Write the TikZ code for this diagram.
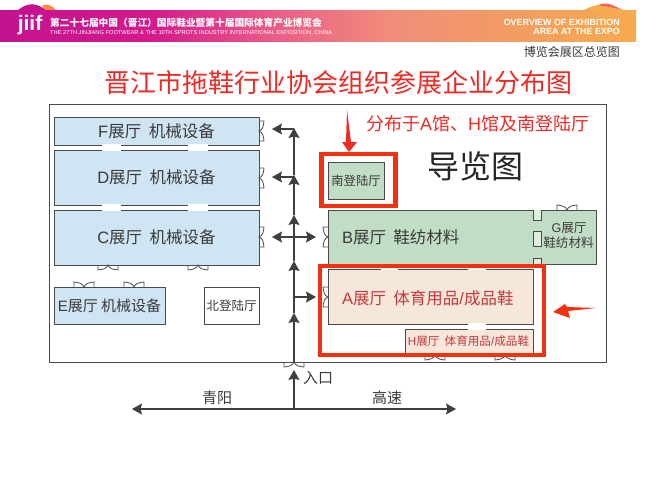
\documentclass[tikz,border=0pt]{standalone}
\usepackage{fontspec}
\setmainfont{Noto Sans CJK SC}
\newfontfamily\lat{Liberation Sans}
\usetikzlibrary{arrows.meta}
\definecolor{wallc}{HTML}{4A4A4A}
\definecolor{inkc}{HTML}{3A3A3A}
\definecolor{bluec}{HTML}{CFE5F3}
\definecolor{greenc}{HTML}{C2DDC6}
\definecolor{peachc}{HTML}{F5E8DA}
\definecolor{framec}{HTML}{F5300F}
\definecolor{titlec}{HTML}{EE2A24}
\definecolor{hallred}{HTML}{C8383C}
\definecolor{hdra}{HTML}{C4118E}
\definecolor{hdrb}{HTML}{D41A8C}
\definecolor{hdrc}{HTML}{EC5F88}
\definecolor{hdrm}{HTML}{F08E78}
\definecolor{hdrd}{HTML}{F6AB4C}
\pgfdeclarehorizontalshading{hdrshade}{100bp}{color(0bp)=(hdra); color(25bp)=(hdra); color(37bp)=(hdrb); color(47bp)=(hdrc); color(56bp)=(hdrm); color(75bp)=(hdrd); color(100bp)=(hdrd)}
\newcommand{\fsz}[1]{\fontsize{#1}{#1}\selectfont}
\newcommand{\room}[7][]{%
  \pgfmathsetmacro{\rw}{#4-#2}\pgfmathsetmacro{\rh}{#5-#3}%
  \pgfmathsetmacro{\rx}{(#4+#2)/2}\pgfmathsetmacro{\ry}{(#5+#3)/2}%
  \node[roombox,minimum width=\rw pt,minimum height=\rh pt,#1] (#6) at (\rx,\ry) {#7};}
\newcommand{\gapbox}[5][white]{%
  \fill[#1] (#2,#3) rectangle (#4,#5);}
\tikzset{
  roombox/.style={draw=wallc,line width=1pt,inner sep=0pt,outer sep=0pt,text=inkc,align=center},
  redframe/.style={draw=framec,line width=4.6pt,fill=none,inner sep=0pt,outer sep=0pt},
  label text/.style={inner sep=0pt,outer sep=0pt,text=inkc,align=center},
  flow/.style={draw=black!75,line width=1.1pt,-{Stealth[length=10pt,width=11pt,inset=1.5pt]}},
  gatemark/.pic={\draw[wallc,line width=.8pt] (-10,0) -- (-10,5) .. controls (-5,4.6) and (-1,3.4) .. (0,0) .. controls (1,3.4) and (5,4.6) .. (10,5) -- (10,0);}
}
\begin{document}
\begin{tikzpicture}[x=1pt,y=-1pt]
\useasboundingbox (0,0) rectangle (645,485);
\fill[white] (0,0) rectangle (645,485);
% header
\fill[hdra] (18,10) .. controls (26,4) and (34,1) .. (46,10) -- cycle;
\fill[hdrd!80!red] (42,6) .. controls (46,3) and (50,4) .. (56,10) -- (46,10) -- cycle;
\fill[hdrd] (584,10) .. controls (595,4) and (605,2) .. (624,10) -- cycle;
\fill[hdrm!70!red] (598,5) .. controls (604,2) and (610,3) .. (620,9) -- cycle;
\shade[shading=hdrshade] (0,10) rectangle (636,41);
\node[inner sep=0,text=white] (logo) at (30,25) {\lat\bfseries\fsz{21}jiif};
\node[inner sep=0,text=white,anchor=west] (cnhead) at (50,23) {\bfseries\fsz{9.7}第二十七届中国（晋江）国际鞋业暨第十届国际体育产业博览会};
\node[inner sep=0,text=white,anchor=west] (enhead) at (50,33) {\lat\fsz{5.7}THE 27TH JINJIANG FOOTWEAR \& THE 10TH SPROTS INDUSTRY INTERNATIONAL EXPOSITION, CHINA};
\node[inner sep=0,text=white,anchor=east] (enr1) at (620,22) {\lat\bfseries\fsz{8.9}OVERVIEW OF EXHIBITION};
\node[inner sep=0,text=white,anchor=east] (enr2) at (620,31) {\lat\bfseries\fsz{8.9}AREA AT THE EXPO};
\node[inner sep=0,text=inkc,anchor=east] (subhead) at (620,52) {\fsz{12}博览会展区总览图};
\node[inner sep=0,text=titlec] (title) at (338,83) {\fsz{26}晋江市拖鞋行业协会组织参展企业分布图};
% outer site
\room{49}{104}{606}{362}{site}{}
% left halls
\room[fill=bluec]{54}{117}{259}{145}{hallF}{\fsz{16.5}{\lat F}展厅\hspace{.45em}机械设备}
\room[fill=bluec]{54}{150}{259}{205}{hallD}{\fsz{16.5}{\lat D}展厅\hspace{.45em}机械设备}
\room[fill=bluec]{54}{210}{259}{265}{hallC}{\fsz{16.5}{\lat C}展厅\hspace{.45em}机械设备}
\gapbox{102}{144}{121}{151}\gapbox{188}{144}{208}{151}
\gapbox{102}{204}{121}{211}\gapbox{188}{204}{208}{211}
\room[fill=bluec]{54}{287}{165}{324}{hallE}{\fsz{15}{\lat E}展厅 机械设备}
\room[fill=white]{204}{287}{259}{324}{north}{\fsz{12.5}北登陆厅}
% right halls
\room[fill=greenc]{328}{162}{384}{199}{south}{\fsz{12.3}南登陆厅}
\room[fill=greenc]{328}{210}{596}{264}{hallB}{}
\draw[wallc,line width=1pt,fill=greenc!50!white] (533,210) -- (533,220) -- (541,220) -- (541,210);
\draw[wallc,line width=1pt,fill=greenc!50!white] (533,231) rectangle (541,246);
\draw[wallc,line width=1pt,fill=greenc!50!white] (533,264) -- (533,258) -- (541,258) -- (541,264);
\node[label text,anchor=west] (hallBt) at (342,237) {\fsz{16.5}{\lat B}展厅\hspace{.45em}鞋纺材料};
\node[label text] (hallGa) at (569,228) {\fsz{12.6}{\lat G}展厅};
\node[label text] (hallGb) at (568.5,243) {\fsz{12.6}鞋纺材料};
\room[fill=peachc]{328}{269}{533}{324}{hallA}{}
\room[fill=peachc]{405}{329}{533}{355}{hallH}{}
\gapbox[peachc!40!white]{381}{268}{398}{270}\gapbox[peachc!40!white]{468}{268}{486}{270}
\gapbox{468}{323}{486}{330}
\node[label text,text=hallred,anchor=west] (hallAt) at (342,298) {\fsz{16.5}{\lat A}展厅\hspace{.45em}体育用品{\lat /}成品鞋};
\node[label text,text=hallred] (hallHt) at (468.5,341) {\fsz{11.6}{\lat H}展厅\hspace{.45em}体育用品{\lat /}成品鞋};
% gates
\path (108,265) pic {gatemark};
\path (198,265) pic {gatemark};
\path (84,287) pic[rotate=180] {gatemark};
\path (134,287) pic[rotate=180] {gatemark};
\path (259,131) pic[rotate=90] {gatemark};
\path (259,178) pic[rotate=90] {gatemark};
\path (259,237) pic[rotate=90] {gatemark};
\path (328,237) pic[rotate=-90] {gatemark};
\path (328,297) pic[rotate=-90] {gatemark};
\path (567,210) pic[rotate=180] {gatemark};
\path (294,362) pic {gatemark};
\path (435,355) pic {gatemark};
\path (505,355) pic {gatemark};
% road
\coordinate (roadL) at (132,409);
\coordinate (roadR) at (456,409);
\coordinate (base) at (294,409);
\coordinate (tA) at (294,370);
\coordinate (doorIn) at (294,362);
\coordinate (tB) at (294,313);
\coordinate (tC) at (294,261);
\coordinate (tD) at (294,215);
\coordinate (tE) at (294,175);
\coordinate (tF) at (294,128);
\coordinate (j1) at (294,297);
\coordinate (j2) at (294,237);
\coordinate (j3) at (294,177);
\coordinate (j4) at (294,129);
\coordinate (eastA) at (316,297);
\coordinate (eastB) at (316,237);
\coordinate (westC) at (272,237);
\coordinate (westD) at (272,177);
\coordinate (westF) at (272,129);
\draw[flow] (base) -- (roadL);
\draw[flow] (base) -- (roadR);
\draw[flow] (base) -- (tA);
\draw[flow] (doorIn) -- (tB);
\draw[flow] (tB) -- (tC);
\draw[flow] (tC) -- (tD);
\draw[flow] (tD) -- (tE);
\draw[flow] (tE) -- (tF);
\draw[flow] (j1) -- (eastA);
\draw[flow] (j2) -- (eastB);
\draw[flow] (j2) -- (westC);
\draw[flow] (j3) -- (westD);
\draw[flow] (j4) -- (westF);
\node[label text] (qingyang) at (217,398) {\fsz{15}青阳};
\node[label text] (gaosu) at (387,398) {\fsz{15}高速};
\node[label text] (rukou) at (318,378) {\fsz{15}入口};
% red frames and notes
\node[redframe,minimum width=74pt,minimum height=52pt] (frameS) at (358.5,180) {};
\node[redframe,minimum width=224pt,minimum height=89pt] (frameA) at (432,310.5) {};
\fill[titlec] (347,110) -- (351,142) -- (357,142) -- (349,152) -- (342,142) -- (346,142) -- cycle;
\fill[framec] (596,308) -- (568,311) -- (570,318) -- (553,312) -- (565,304) -- (567,307) -- cycle;
\node[inner sep=0,text=titlec,anchor=west] (note) at (366,124) {\fsz{18}分布于{\lat A}馆、{\lat H}馆及南登陆厅};
\node[inner sep=0,text=black!85] (guide) at (475,166) {\fsz{32}导览图};
\end{tikzpicture}
\end{document}
